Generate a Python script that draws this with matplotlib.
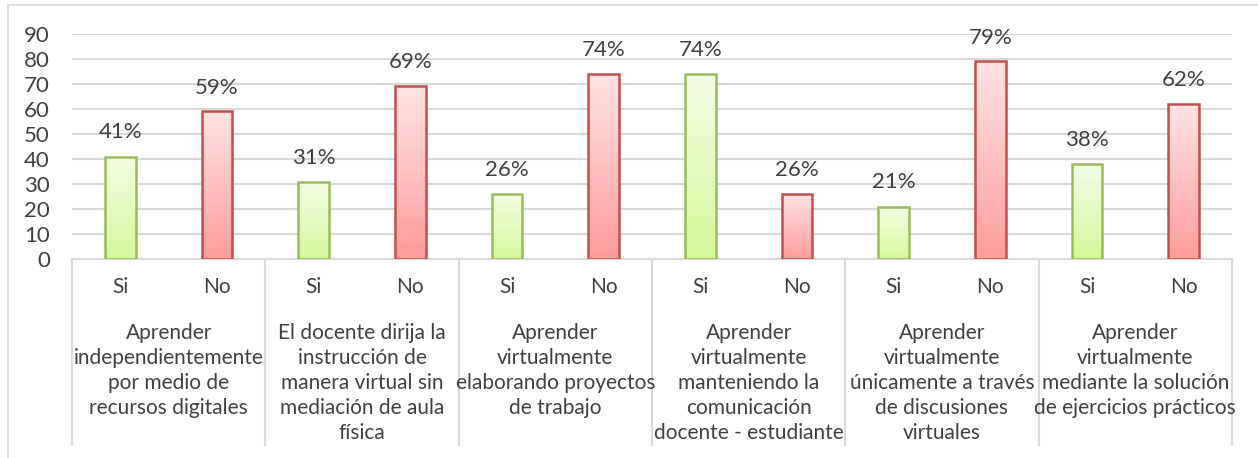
import numpy as np
import matplotlib.pyplot as plt
from matplotlib.colors import LinearSegmentedColormap
from matplotlib.patches import Rectangle

# --- Datos ---
categorias = [
    "Aprender\nindependientemente\npor medio de\nrecursos digitales",
    "El docente dirija la\ninstrucción de\nmanera virtual sin\nmediación de aula\nfísica",
    "Aprender\nvirtualmente\nelaborando proyectos\nde trabajo",
    "Aprender\nvirtualmente\nmanteniendo la\ncomunicación\ndocente - estudiante",
    "Aprender\nvirtualmente\núnicamente a través\nde discusiones\nvirtuales",
    "Aprender\nvirtualmente\nmediante la solución\nde ejercicios prácticos",
]
respuestas = ["Si", "No"]
si_valores = [41, 31, 26, 74, 21, 38]
no_valores = [59, 69, 74, 26, 79, 62]

plt.rcParams['font.family'] = ['Lato', 'DejaVu Sans']
TXT = '#404040'
FS = 15

fig = plt.figure(figsize=(12.58, 4.58), dpi=100)
W, H = 1258, 458
ax = fig.add_axes([72 / W, 1 - 259 / H, (1232 - 72) / W, (259 - 34) / H])

# marco exterior del gráfico
fig.patches.append(Rectangle((8 / W, -0.1), 1.2, 1 - 5 / H + 0.1, transform=fig.transFigure,
                             fill=False, edgecolor='#d9d9d9', linewidth=1.2))

n = len(categorias)
ancho = 0.32
verde = LinearSegmentedColormap.from_list('verde', ['#d4f79a', '#f4fde4'])
rojo = LinearSegmentedColormap.from_list('rojo', ['#ff9c9c', '#ffe3e3'])
grad = np.linspace(0, 1, 256).reshape(-1, 1)


def barra(x, v, cmap, borde):
    rect = Rectangle((x - ancho / 2, 0), ancho, v, facecolor='none',
                     edgecolor=borde, linewidth=1.8, zorder=4)
    ax.add_patch(rect)
    img = ax.imshow(grad, cmap=cmap, origin='lower', aspect='auto',
                    extent=(x - ancho / 2, x + ancho / 2, 0, v), zorder=3)
    img.set_clip_path(rect)
    ax.annotate(f"{v}%", xy=(x, v), xytext=(0, 18), textcoords='offset pixels',
                ha='center', va='baseline', fontsize=FS + 1, color=TXT)


for i in range(n):
    barra(2 * i + 0.5, si_valores[i], verde, '#9bbb59')
    barra(2 * i + 1.5, no_valores[i], rojo, '#c0504d')

ax.set_xlim(0, 2 * n)
ax.set_ylim(0, 90)
ax.set_yticks(range(0, 91, 10))
ax.tick_params(axis='y', length=0, labelsize=FS + 1, labelcolor=TXT, pad=16)
ax.set_xticks([])
ax.yaxis.grid(True, color='#d9d9d9', linewidth=1.5)
ax.set_axisbelow(True)
for s in ['top', 'right', 'left']:
    ax.spines[s].set_visible(False)
ax.spines['bottom'].set_color('#d9d9d9')
ax.spines['bottom'].set_linewidth(1.5)

# etiquetas Si / No y categorías bajo el eje
xt = ax.get_xaxis_transform()
for i in range(n):
    for j, r in enumerate(respuestas):
        ax.annotate(r, xy=(2 * i + 0.5 + j, 0), xycoords=xt, xytext=(0, -28),
                    textcoords='offset pixels', ha='center', va='center',
                    fontsize=FS, color=TXT)
    ax.annotate(categorias[i], xy=(2 * i + 1, 0), xycoords=xt, xytext=(0, -64),
                textcoords='offset pixels', ha='center', va='top',
                fontsize=FS, color=TXT, linespacing=1.32)
for k in range(n + 1):
    ax.plot([2 * k, 2 * k], [0, -186 / 225], transform=xt, color='#d9d9d9',
            linewidth=1.5, clip_on=False)

fig.savefig('out.png', dpi=100)
